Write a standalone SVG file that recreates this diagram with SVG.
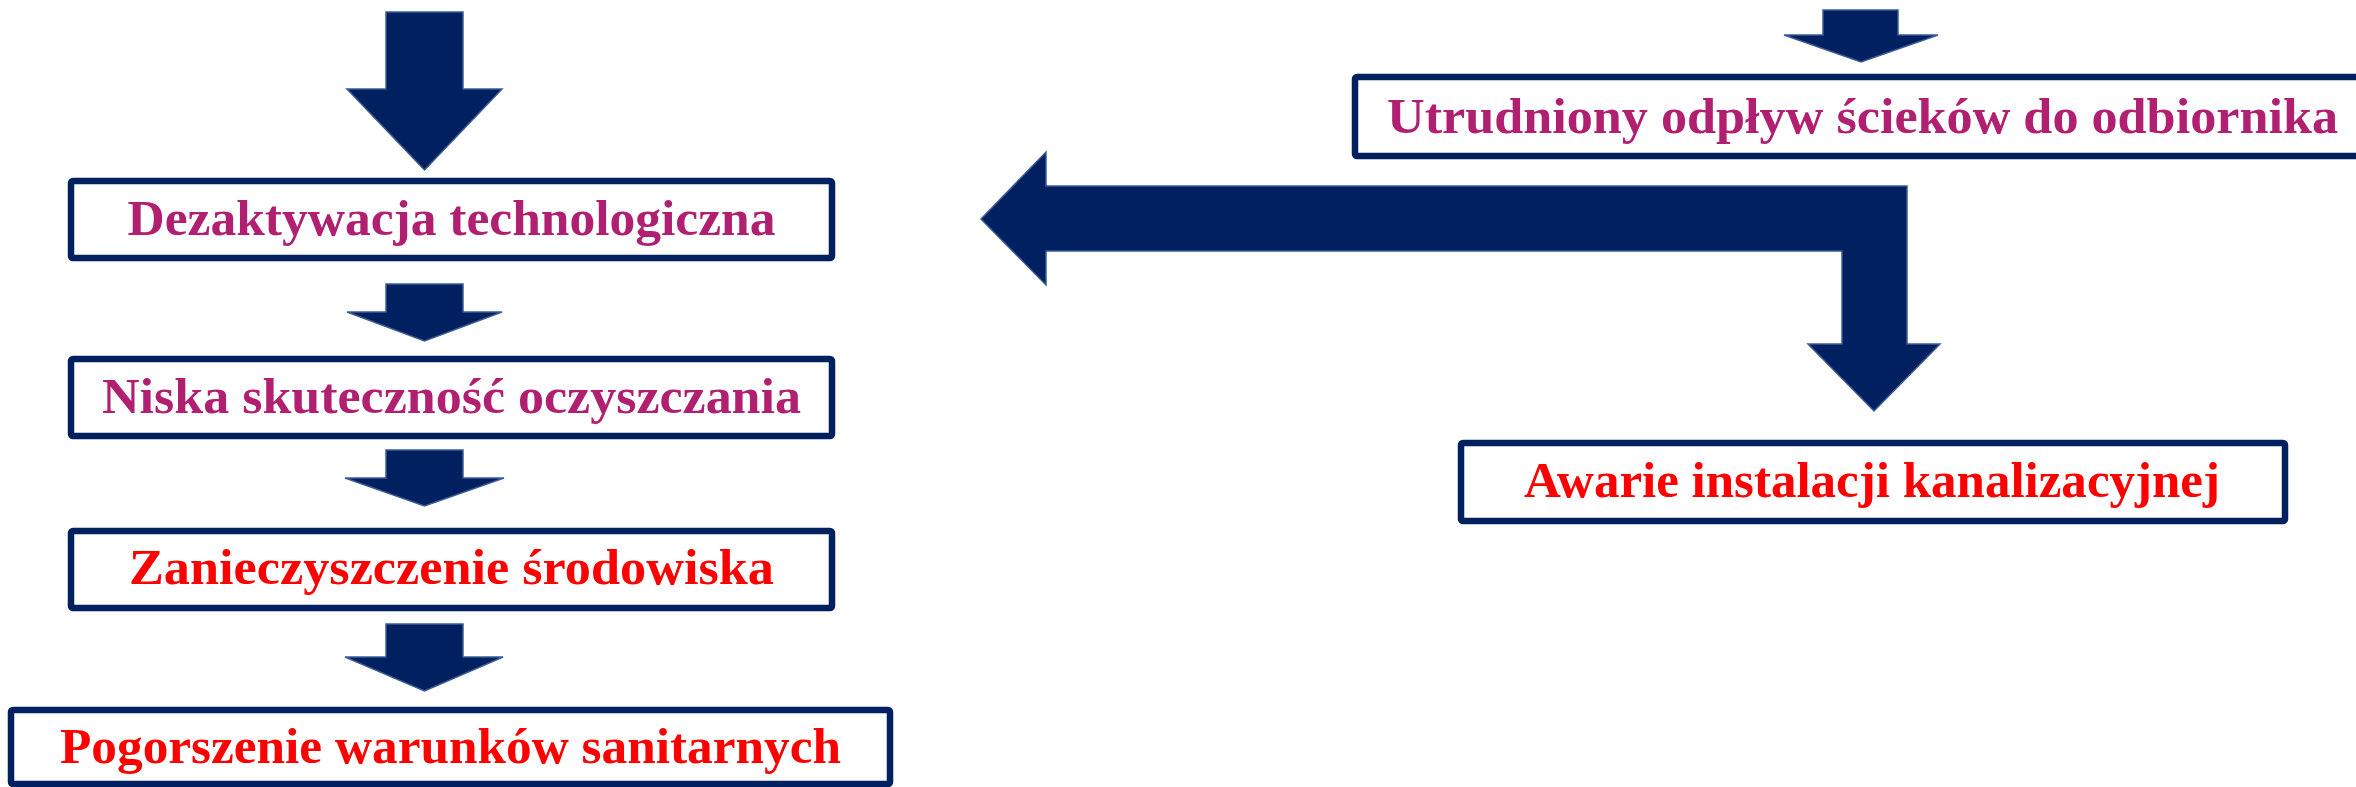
<svg xmlns="http://www.w3.org/2000/svg" width="2356" height="787" viewBox="0 0 2356 787">
<style>
.box{fill:#FFFFFF;stroke:#002060;stroke-width:6.5;}
.arr{fill:#002060;stroke:#3B5B97;stroke-width:1.5;stroke-linejoin:miter;}
.t{font-family:"Liberation Serif","DejaVu Serif",serif;font-weight:bold;font-size:50px;text-anchor:middle;}
.mag{fill:#B01F70;}
.red{fill:#FF0000;}
</style>
<rect width="2356" height="787" fill="#FFFFFF"/>
<g id="connectors">
<polygon class="arr" points="386,12 463,12 463,89 502,89 424.5,170 347,89 386,89"/>
<polygon class="arr" points="386,284 463,284 463,312 502,312 424.5,341 347,312 386,312"/>
<polygon class="arr" points="386,450 463,450 463,478 504,478 424.5,506 345,478 386,478"/>
<polygon class="arr" points="386,624 463,624 463,657 503,657 424.5,691 345,657 386,657"/>
<polygon class="arr" points="1823,10 1898,10 1898,35 1938,35 1861,62 1784,35 1823,35"/>
<polygon class="arr" points="981,219 1046,152 1046,186 1907,186 1907,344 1940,344 1874,411 1808,344 1842,344 1842,251 1046,251 1046,285"/>
</g>
<g id="n1">
<rect class="box" x="71" y="181" width="761" height="77" rx="2"/>
<text class="t mag" x="451.5" y="235" textLength="648" lengthAdjust="spacingAndGlyphs">Dezaktywacja technologiczna</text>
</g>
<g id="n2">
<rect class="box" x="71" y="359" width="761" height="77" rx="2"/>
<text class="t mag" x="451.5" y="413" textLength="699" lengthAdjust="spacingAndGlyphs">Niska skuteczność oczyszczania</text>
</g>
<g id="n3">
<rect class="box" x="71" y="531" width="761" height="77" rx="2"/>
<text class="t red" x="451.5" y="584" textLength="645" lengthAdjust="spacingAndGlyphs">Zanieczyszczenie środowiska</text>
</g>
<g id="n4">
<rect class="box" x="11" y="710" width="879" height="74" rx="2"/>
<text class="t red" x="450.5" y="763" textLength="781" lengthAdjust="spacingAndGlyphs">Pogorszenie warunków sanitarnych</text>
</g>
<g id="n5">
<rect class="box" x="1355" y="77" width="1100" height="79" rx="2"/>
<text class="t mag" x="1862.5" y="133" textLength="951" lengthAdjust="spacingAndGlyphs">Utrudniony odpływ ścieków do odbiornika</text>
</g>
<g id="n6">
<rect class="box" x="1461" y="443" width="824" height="78" rx="2"/>
<text class="t red" x="1872" y="497" textLength="696" lengthAdjust="spacingAndGlyphs">Awarie instalacji kanalizacyjnej</text>
</g>
</svg>
